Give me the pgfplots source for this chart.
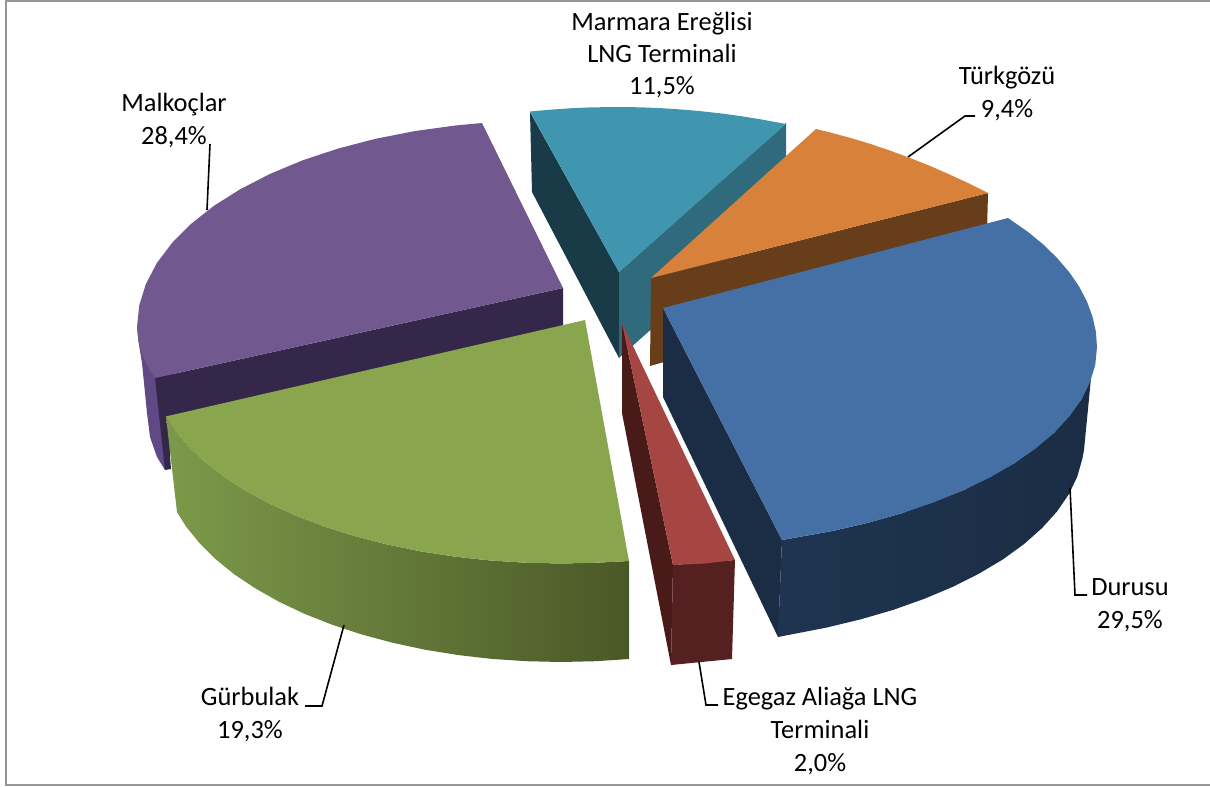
\documentclass[border=0pt]{standalone}
\usepackage{pgfplots}
\pgfplotsset{compat=1.18}
\usepackage{fontspec}
\setmainfont{Carlito}
\definecolor{pTop}{HTML}{71588F}\definecolor{pSide}{HTML}{5F4A85}\definecolor{pDark}{HTML}{35274A}
\definecolor{gTop}{HTML}{89A54E}\definecolor{gL}{HTML}{7C9A4A}\definecolor{gR}{HTML}{4A5827}
\definecolor{rTop}{HTML}{A64643}\definecolor{rDark}{HTML}{491B18}\definecolor{rFront}{HTML}{552120}
\definecolor{tTop}{HTML}{4096AE}\definecolor{tDark}{HTML}{193B48}\definecolor{tSide}{HTML}{2F6A7D}
\definecolor{oTop}{HTML}{D7813B}\definecolor{oSide}{HTML}{673D1A}
\definecolor{bTop}{HTML}{4570A6}\definecolor{bDark}{HTML}{1A2D45}\definecolor{bL}{HTML}{1E3450}\definecolor{bR}{HTML}{1A2D44}
\tikzset{lbl/.style={font=\fontsize{13.2}{15}\selectfont, text=black, inner sep=0pt, anchor=base}}
\begin{document}
\begin{tikzpicture}
\begin{axis}[
  scale only axis, width=605pt, height=393.5pt,
  xmin=0, xmax=1210, ymin=0, ymax=787, y dir=reverse,
  axis lines=none, clip=true,
  every axis plot/.append style={line width=0pt, draw=none},
]
% full extent of the canvas
\addplot[draw=none] coordinates {(0,0) (1210,787)};
% frame
\addplot[draw={rgb,255:red,150;green,150;blue,150}, line width=1pt] coordinates {(1210,1) (5.5,1) (5.5,785) (1210,785)};
% purple
\addplot[fill=pSide] coordinates {(137,327)(139,345)(142,363)(147,413)(150,437)(157,457)(165,470)(175,440)(175,340)} --cycle;
\addplot[fill=pDark] coordinates {(155,378)(563,288)(563,326)(167,417)(171,469)(165,470)} --cycle;
\addplot[fill=pTop] coordinates {(563,288)(482,123)(455.4,125.5)(414.8,131.1)(375.5,138.8)(338,148.6)(302.7,160.3)(270,173.9)(240.3,189.2)(213.8,205.9)(190.9,224)(171.8,243.2)(156.7,263.3)(145.8,284.2)(139.2,305.5)(137,327)(138.5,342)(143,356.9)(150.7,371.5)(155,378)} --cycle;
% teal
\addplot[fill=tDark] coordinates {(530,112)(619,272)(619,358)(532,192)} --cycle;
\addplot[fill=tSide] coordinates {(619,272)(786,123)(786,209)(619,358)} --cycle;
\addplot[fill=tTop] coordinates {(619,272)(530,111.5)(550,109.7)(570,108.3)(590,107.4)(617,107)(640,107.3)(660,108.1)(680,109.4)(700,111.1)(720,113.3)(740,116)(760,119.2)(786,124)} --cycle;
% orange
\addplot[fill=oSide] coordinates {(651,278)(988,193)(987,232)(664,315)(664,362)(650,366)} --cycle;
\addplot[fill=oTop] coordinates {(651,278)(816,129)(830,132.4)(850,137.8)(870,143.8)(890,150.6)(910,158)(930,165.9)(950,174.7)(970,183.9)(988,193)} --cycle;
% blue
\addplot[fill=bDark] coordinates {(663,308)(782,540)(778,637)(663,397)} --cycle;
\addplot[left color=bL, right color=bR] coordinates {(782,540)(832.6,531)(868,522.8)(901.7,513.3)(962.9,490.5)(1014.2,463.4)(1054.1,432.8)(1081.4,399.5)(1091,378)(1084,450)(1082.3,459)(1077.2,476.8)(1068.8,494.3)(1057,511.5)(1042.1,528)(1024.1,544)(1003.2,559.2)(979.4,573.4)(953.1,586.7)(924.3,598.8)(893.4,609.8)(860.5,619.4)(825.9,627.7)(778,637)} --cycle;
\addplot[fill=bTop] coordinates {(663,308)(1008,218)(1027.4,231.5)(1043.4,244.6)(1057.4,258.3)(1069.4,272.4)(1079.3,286.9)(1087,301.7)(1092.5,316.7)(1095.9,331.8)(1097,347)(1095.3,364.7)(1090,382.2)(1081.4,399.5)(1069.4,416.4)(1054.1,432.8)(1035.6,448.5)(1014.2,463.4)(989.8,477.5)(962.9,490.5)(933.4,502.5)(901.7,513.3)(868,522.8)(832.6,531)(782,540)} --cycle;
% red
\addplot[fill=rDark] coordinates {(622,323)(673,565)(671,665)(622,413)} --cycle;
\addplot[fill=rFront] coordinates {(673,565)(735,560)(732,659)(671,665)} --cycle;
\addplot[fill=rTop] coordinates {(622,323)(735,560)(705,563.5)(673,565)} --cycle;
% green
\addplot[left color=gL, right color=gR] coordinates {(166,416.4)(174.8,429.9)(188.5,446.3)(205.1,462)(224.3,476.9)(246.2,491)(270.4,504)(296.8,516)(325.3,526.8)(355.5,536.3)(387.3,544.5)(420.4,551.3)(454.6,556.6)(489.6,560.4)(525.2,562.7)(561,563.5)(596.8,562.7)(629,561)(629,659)(595.8,661.2)(561,662)(526.2,661.2)(491.7,658.9)(457.7,655)(424.5,649.6)(392.4,642.7)(361.5,634.4)(332.1,624.7)(304.5,613.8)(278.9,601.7)(255.4,588.4)(234.1,574.2)(215.5,559)(199.4,543)(186,526.5)(177,512)} --cycle;
\addplot[fill=gTop] coordinates {(585,320)(629,561)(596.8,562.7)(561,563.5)(525.2,562.7)(489.6,560.4)(454.6,556.6)(420.4,551.3)(387.3,544.5)(355.5,536.3)(325.3,526.8)(296.8,516)(270.4,504)(246.2,491)(224.3,476.9)(205.1,462)(188.5,446.3)(174.8,429.9)(166,416.4)} --cycle;
% leader lines
\addplot[draw=black, line width=0.8pt] coordinates {(210,144)(207,210)};
\addplot[draw=black, line width=0.8pt] coordinates {(975,116)(965,116)(908,157)};
\addplot[draw=black, line width=0.8pt] coordinates {(1070,488)(1075,595)(1087,595)};
\addplot[draw=black, line width=0.8pt] coordinates {(344,625)(322,706)(305,706)};
\addplot[draw=black, line width=0.8pt] coordinates {(699,662)(706,705)(718,705)};
% labels
\node[lbl] at (axis cs:662,30.5) {Marmara Ereğlisi};
\node[lbl] at (axis cs:662,62.5) {LNG Terminali};
\node[lbl] at (axis cs:662,94.5) {11,5\%};
\node[lbl] at (axis cs:1007,84.5) {Türkgözü};
\node[lbl] at (axis cs:1007,117.5) {9,4\%};
\node[lbl] at (axis cs:174,111.5) {Malkoçlar};
\node[lbl] at (axis cs:174,144.5) {28,4\%};
\node[lbl] at (axis cs:1130,595.5) {Durusu};
\node[lbl] at (axis cs:1130,628.5) {29,5\%};
\node[lbl] at (axis cs:250,705.5) {Gürbulak};
\node[lbl] at (axis cs:250,738.5) {19,3\%};
\node[lbl] at (axis cs:820,705.5) {Egegaz Aliağa LNG};
\node[lbl] at (axis cs:820,738.5) {Terminali};
\node[lbl] at (axis cs:820,771.5) {2,0\%};
\end{axis}
\end{tikzpicture}
\end{document}
